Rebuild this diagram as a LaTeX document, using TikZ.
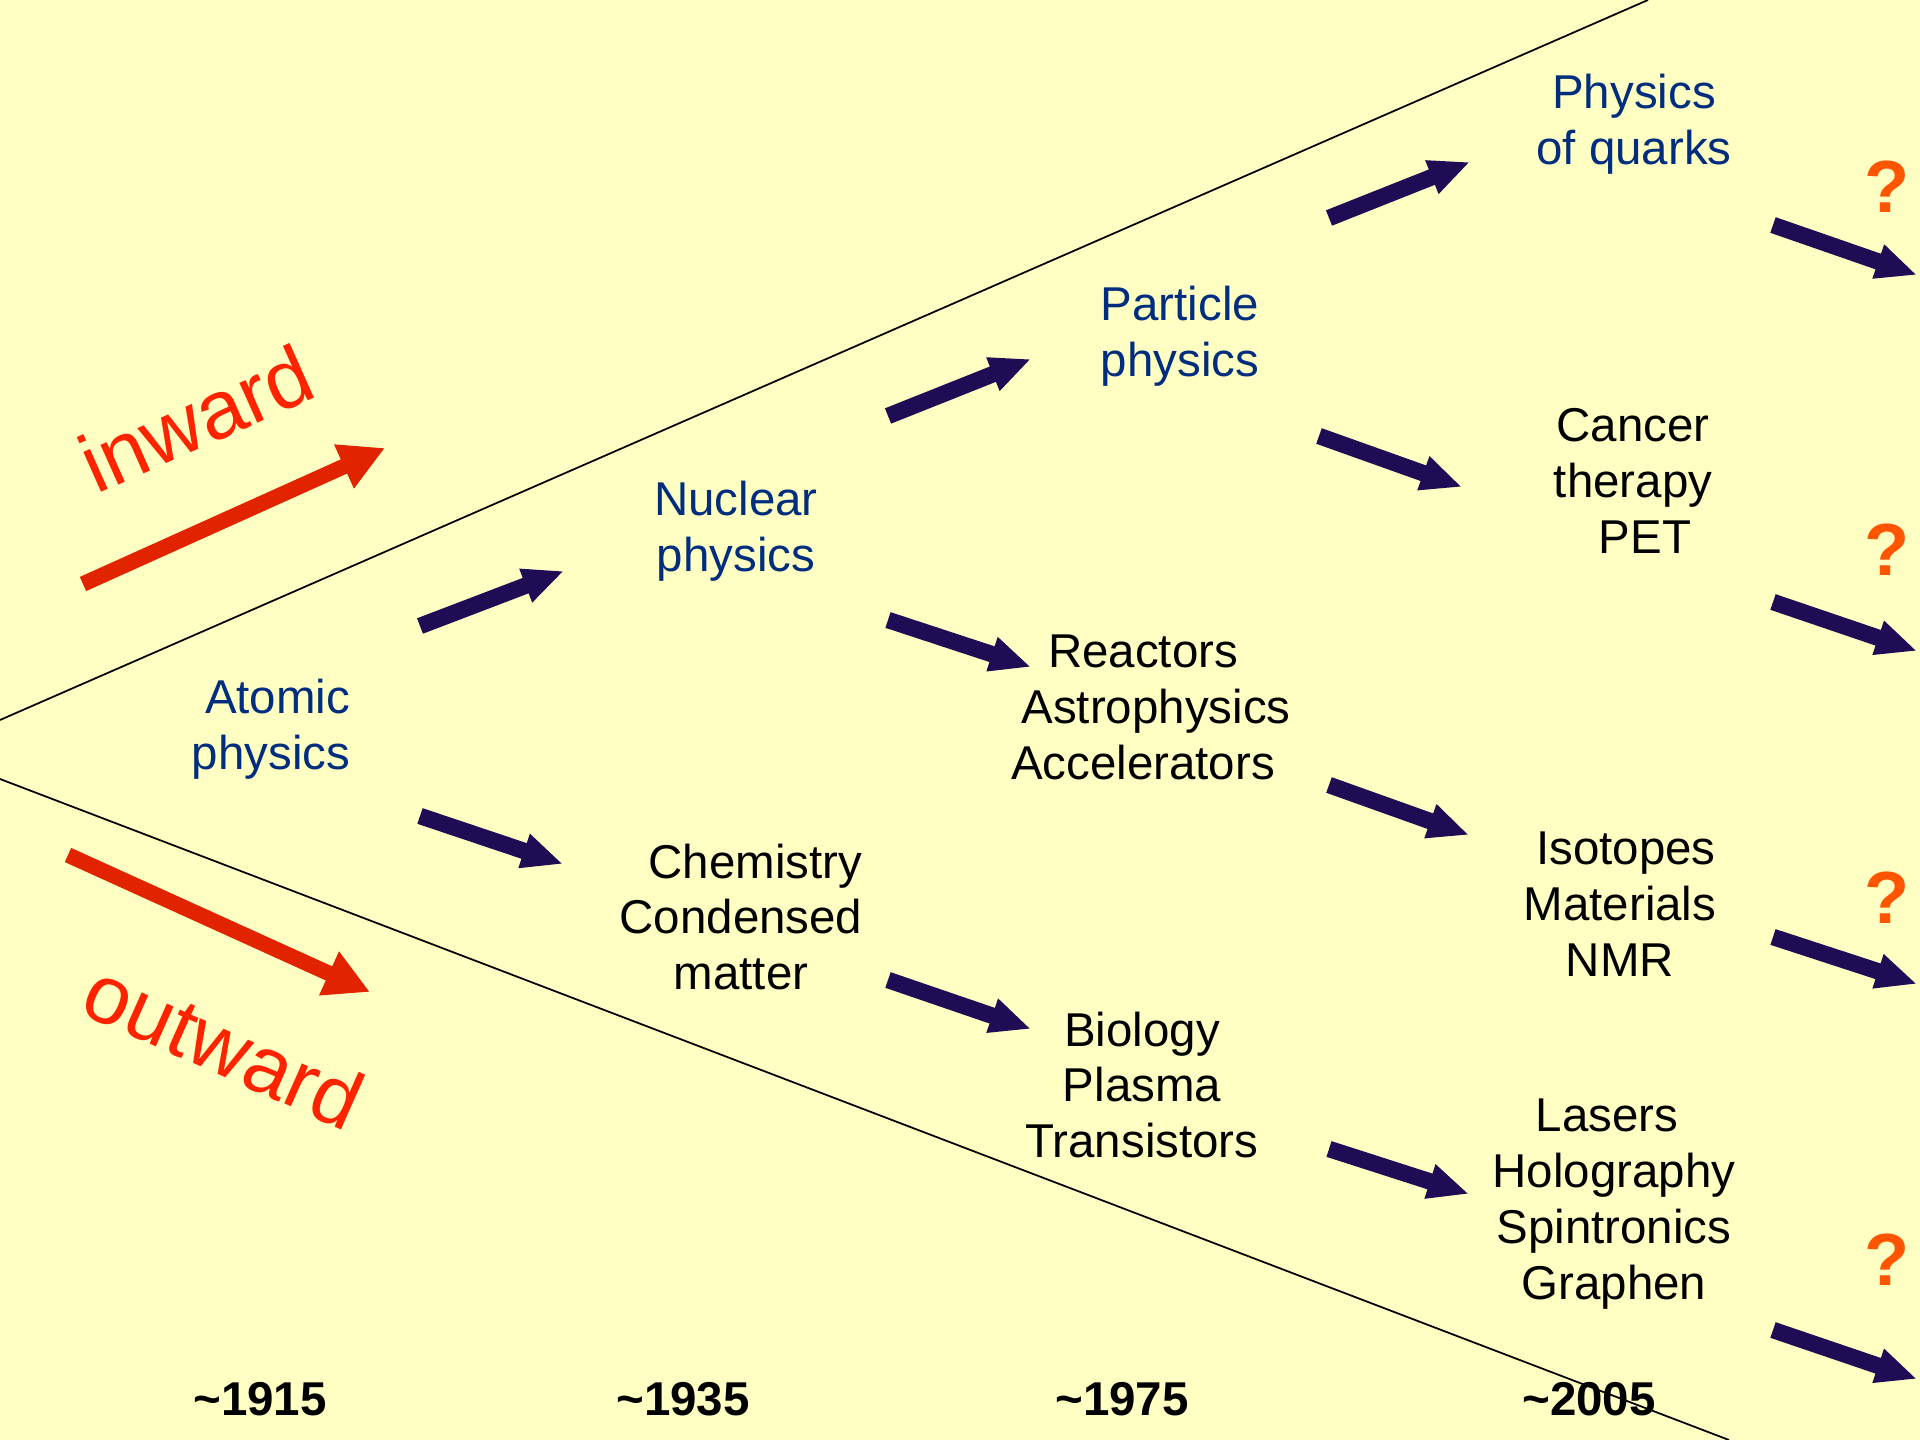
\documentclass[tikz,border=0pt]{standalone}
\usepackage{fontspec}
\setmainfont{Liberation Sans}
\usetikzlibrary{arrows.meta}
\definecolor{bgyellow}{RGB}{255,255,195}
\definecolor{fieldblue}{RGB}{0,45,125}
\definecolor{flowblue}{RGB}{30,12,85}
\definecolor{trendred}{RGB}{225,35,0}
\definecolor{trendtext}{RGB}{255,35,0}
\definecolor{askorange}{RGB}{255,85,0}

\begin{document}
\begin{tikzpicture}[x=0.01cm,y=-0.01cm,
  field/.style={text=fieldblue,font=\fontsize{13.5}{15.9}\selectfont,
                align=center,inner sep=0pt},
  spinoff/.style={text=black,font=\fontsize{13.5}{15.9}\selectfont,
                  align=center,inner sep=0pt},
  era/.style={font=\fontsize{13.5}{15.9}\selectfont\bfseries,inner sep=0pt},
  ask/.style={text=askorange,font=\fontsize{21}{24}\selectfont\bfseries,inner sep=0pt},
  trend/.style={text=trendtext,font=\fontsize{23.5}{27}\selectfont,inner sep=0pt},
  flow/.style={flowblue,line width=0.165cm,-{Triangle[width=0.33cm,length=0.41cm]}},
  push/.style={trendred,line width=0.155cm,-{Triangle[width=0.45cm,length=0.45cm]}},
  border/.style={black,line width=0.5pt}
]
\fill[bgyellow] (0,0) rectangle (1920,1440);
\useasboundingbox (0,0) rectangle (1920,1440);
\clip (0,0) rectangle (1920,1440);

% wedge
\draw[border] (0,720) -- (1648,0);
\draw[border] (0,779) -- (1729,1440);

% fields
\node[field,align=right] (atomic)   at (271,729)  {Atomic\\physics};
\node[field]             (nuclear)  at (736,531)  {Nuclear\\physics};
\node[field]             (particle) at (1180,336) {Particle\\physics};
\node[field]             (quarks)   at (1634,124) {Physics\\of quarks};

% applications
\node[spinoff] (chem)    at (741,917)   {\hspace*{0.6em}Chemistry\\Condensed\\matter};
\node[spinoff] (react)   at (1143,707)  {Reactors\\\hspace*{0.55em}Astrophysics\\Accelerators};
\node[spinoff] (bio)     at (1142,1085) {Biology\\Plasma\\Transistors};
\node[spinoff] (cancer)  at (1633,481)  {Cancer\\therapy\\\hspace*{0.5em}PET};
\node[spinoff] (isotope) at (1620,904)  {\hspace*{0.25em}Isotopes\\Materials\\NMR};
\node[spinoff] (laser)   at (1614,1204) {Lasers\hspace*{0.3em}\\Holography\\Spintronics\\Graphen};

% years
\node[era] (y1915) at (260,1399)  {\textasciitilde1915};
\node[era] (y1935) at (683,1399)  {\textasciitilde1935};
\node[era] (y1975) at (1122,1399) {\textasciitilde1975};
\node[era] (y2005) at (1589,1399) {\textasciitilde2005};

% open questions
\node[ask] (q1) at (1887,187)  {?};
\node[ask] (q2) at (1887,550)  {?};
\node[ask] (q3) at (1887,898)  {?};
\node[ask] (q4) at (1887,1260) {?};

% directions
\node[trend,rotate=24]  (inward)  at (196,418)  {inward};
\node[trend,rotate=-24] (outward) at (224,1045) {outward};
\coordinate (in-s)  at (83,584);   \coordinate (in-e)  at (385,448);
\coordinate (out-s) at (68,855);   \coordinate (out-e) at (370,992);
\draw[push] (in-s) -- (in-e);
\draw[push] (out-s) -- (out-e);

% arrow ends
\coordinate (an-s) at (420,626);   \coordinate (an-e) at (564,571);
\coordinate (ac-s) at (420,816);   \coordinate (ac-e) at (563,864);
\coordinate (np-s) at (888,416);   \coordinate (np-e) at (1031,359);
\coordinate (nr-s) at (888,620);   \coordinate (nr-e) at (1031,667);
\coordinate (cb-s) at (888,980);   \coordinate (cb-e) at (1031,1029);
\coordinate (pq-s) at (1329,218);  \coordinate (pq-e) at (1470,162);
\coordinate (pc-s) at (1319,436);  \coordinate (pc-e) at (1462,487);
\coordinate (ri-s) at (1329,785);  \coordinate (ri-e) at (1469,835);
\coordinate (bl-s) at (1329,1149); \coordinate (bl-e) at (1469,1194);
\coordinate (q1-s) at (1773,225);  \coordinate (q1-e) at (1917,275);
\coordinate (q2-s) at (1773,602);  \coordinate (q2-e) at (1917,651);
\coordinate (q3-s) at (1773,937);  \coordinate (q3-e) at (1917,984);
\coordinate (q4-s) at (1773,1330); \coordinate (q4-e) at (1917,1379);

\draw[flow] (an-s) -- (an-e);
\draw[flow] (ac-s) -- (ac-e);
\draw[flow] (np-s) -- (np-e);
\draw[flow] (nr-s) -- (nr-e);
\draw[flow] (cb-s) -- (cb-e);
\draw[flow] (pq-s) -- (pq-e);
\draw[flow] (pc-s) -- (pc-e);
\draw[flow] (ri-s) -- (ri-e);
\draw[flow] (bl-s) -- (bl-e);
\draw[flow] (q1-s) -- (q1-e);
\draw[flow] (q2-s) -- (q2-e);
\draw[flow] (q3-s) -- (q3-e);
\draw[flow] (q4-s) -- (q4-e);
\end{tikzpicture}
\end{document}
